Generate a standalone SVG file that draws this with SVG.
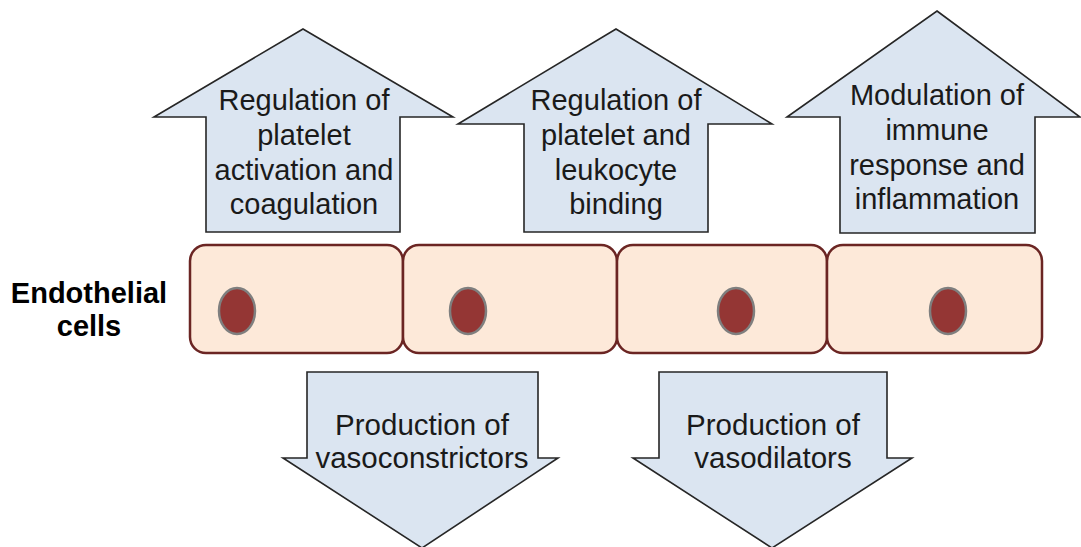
<svg xmlns="http://www.w3.org/2000/svg" width="1081" height="547" viewBox="0 0 1081 547">
<style>
.arrow{fill:#dbe5f1;stroke:#262626;stroke-width:1.6;stroke-linejoin:miter}
.cell{fill:#fde9d9;stroke:#6b2523;stroke-width:2.5}
.nuc{fill:#943634;stroke:#7f7f7f;stroke-width:2.5}
.t{font-family:"Liberation Sans",Arial,sans-serif;font-size:29px;fill:#1a1a1a;text-anchor:middle}
.b{font-size:29.5px}
.lbl{font-family:"Liberation Sans",Arial,sans-serif;font-size:29px;font-weight:bold;fill:#000;text-anchor:middle}
</style>
<rect width="1081" height="547" fill="#fff"/>
<g id="connectors"></g>
<g id="up1">
<path class="arrow" d="M303,29 L453,117 L400,117 L400,232 L206,232 L206,117 L154,117 Z"/>
<text class="t"><tspan x="304" y="110">Regulation of</tspan><tspan x="304" y="145">platelet</tspan><tspan x="304" y="180">activation and</tspan><tspan x="304" y="214">coagulation</tspan></text>
</g>
<g id="up2">
<path class="arrow" d="M616,29 L772,124 L708,124 L708,232 L524,232 L524,124 L458,124 Z"/>
<text class="t"><tspan x="616" y="110">Regulation of</tspan><tspan x="616" y="145">platelet and</tspan><tspan x="616" y="180">leukocyte</tspan><tspan x="616" y="214">binding</tspan></text>
</g>
<g id="up3">
<path class="arrow" d="M937,11 L1080,117 L1035,117 L1035,233 L840,233 L840,117 L787,117 Z"/>
<text class="t"><tspan x="937" y="105">Modulation of</tspan><tspan x="937" y="140">immune</tspan><tspan x="937" y="175">response and</tspan><tspan x="937" y="209">inflammation</tspan></text>
</g>
<g id="label">
<text class="lbl"><tspan x="89" y="303">Endothelial</tspan><tspan x="89" y="336">cells</tspan></text>
</g>
<g id="cell1">
<rect class="cell" x="190" y="245" width="213" height="108" rx="16"/>
<ellipse class="nuc" cx="237" cy="311" rx="18" ry="23"/>
</g>
<g id="cell2">
<rect class="cell" x="403" y="245" width="214" height="108" rx="16"/>
<ellipse class="nuc" cx="468" cy="311" rx="18" ry="23"/>
</g>
<g id="cell3">
<rect class="cell" x="617" y="245" width="210" height="108" rx="16"/>
<ellipse class="nuc" cx="736" cy="311" rx="18" ry="23"/>
</g>
<g id="cell4">
<rect class="cell" x="827" y="245" width="215" height="108" rx="16"/>
<ellipse class="nuc" cx="948" cy="311" rx="18" ry="23"/>
</g>
<g id="down1">
<path class="arrow" d="M307,372 L538,372 L538,458 L558,458 L422,548 L283,458 L307,458 Z"/>
<text class="t b"><tspan x="422" y="435">Production of</tspan><tspan x="422" y="468">vasoconstrictors</tspan></text>
</g>
<g id="down2">
<path class="arrow" d="M659,372 L887,372 L887,458 L912,458 L772,548 L633,458 L659,458 Z"/>
<text class="t b"><tspan x="773" y="435">Production of</tspan><tspan x="773" y="468">vasodilators</tspan></text>
</g>
</svg>
